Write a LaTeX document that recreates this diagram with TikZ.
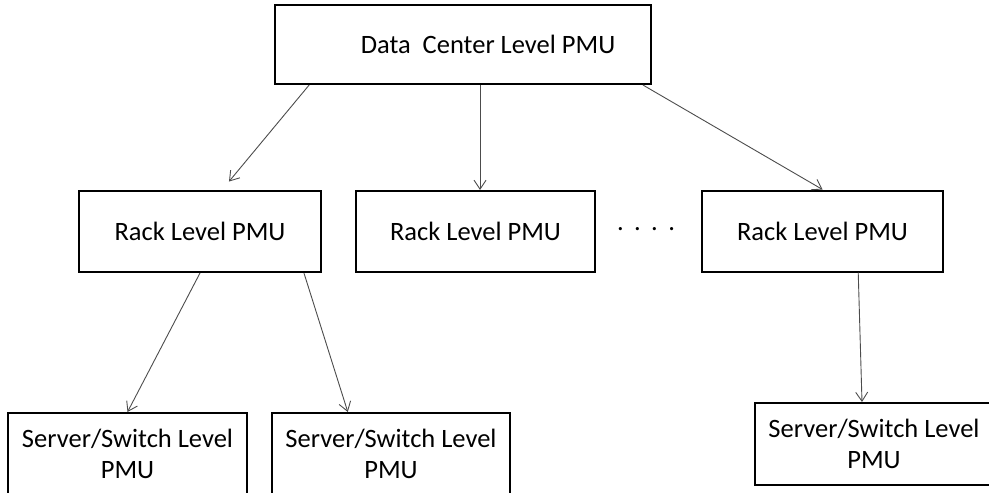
\documentclass[tikz,border=0pt]{standalone}
\usepackage{fontspec}
\setmainfont{Carlito}
\usetikzlibrary{arrows.meta,calc}
\tikzset{
  pmubox/.style={draw,line width=2pt,inner sep=0pt,align=center,font=\fontsize{26.5}{31}\selectfont},
  rackbox/.style={pmubox,minimum width=242pt,minimum height=81pt},
  srvbox/.style={pmubox,minimum width=238pt,minimum height=82pt},
  link/.style={-{Straight Barb[length=9pt,width=12pt]},line width=0.9pt,draw=black!70}
}
\begin{document}
\begin{tikzpicture}[x=1pt,y=-1pt]
    \useasboundingbox (0,0) rectangle (989,493);
    \clip (0,0) rectangle (989,493);
    % levels
    \node[pmubox,minimum width=376pt,minimum height=79pt] (dc) at (463,44.5) {\hspace*{50pt}Data\ \ Center Level PMU};
    \node[rackbox] (rack1) at (200,231.5) {Rack Level PMU};
    \node[rackbox,minimum width=239pt] (rack2) at (475.5,231.5) {Rack Level PMU};
    \node[rackbox,minimum width=241pt] (rack3) at (822.5,231) {Rack Level PMU};
    \node[font=\fontsize{26.5}{31}\selectfont,anchor=base] (dots) at (646,230.5) {.\,\ .\,\ .\,\ .};
    \node[srvbox,minimum width=239pt] (srv1) at (127.5,454) {Server/Switch Level\\PMU};
    \node[srvbox] (srv2) at (391,454) {Server/Switch Level\\PMU};
    \node[srvbox] (srv3) at (874,444) {Server/Switch Level\\PMU};
    % connectors
    \coordinate (dcA) at ($(dc.south west)!.093!(dc.south east)$);
    \coordinate (dcB) at ($(dc.south west)!.545!(dc.south east)$);
    \coordinate (dcC) at ($(dc.south west)!.976!(dc.south east)$);
    \draw[link,shorten >=11pt] (dcA) -- ($(rack1.north west)!.59!(rack1.north east)$);
    \draw[link] (dcB) -- (dcB |- rack2.north);
    \draw[link] (dcC) -- (rack3.north);
    \draw[link] (rack1.south) -- (srv1.north);
    \draw[link] ($(rack1.south west)!.926!(rack1.south east)$) -- ($(srv2.north west)!.32!(srv2.north east)$);
    \draw[link] ($(rack3.south west)!.647!(rack3.south east)$) -- ($(srv3.north west)!.45!(srv3.north east)$);
\end{tikzpicture}
\end{document}
